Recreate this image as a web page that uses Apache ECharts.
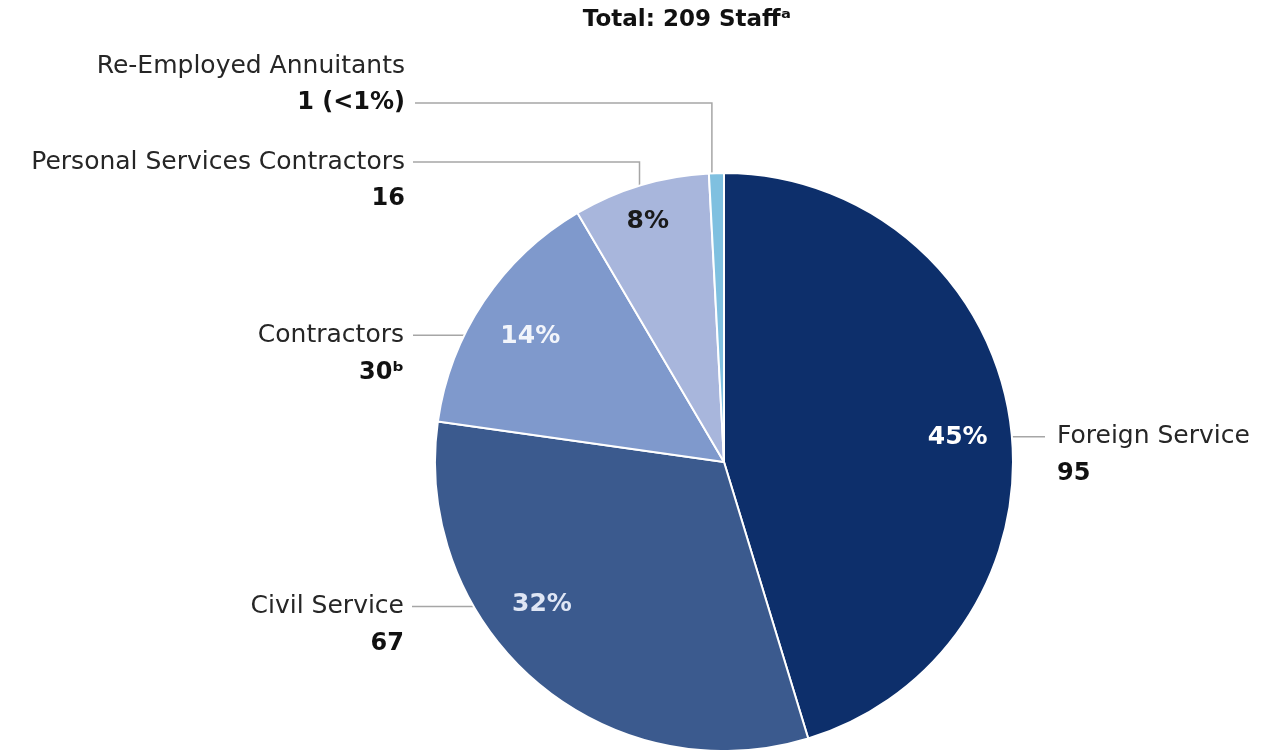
<!DOCTYPE html>
<html><head><meta charset="utf-8">
<script src="https://cdn.jsdelivr.net/npm/echarts@6/dist/echarts.min.js"></script>
<style>html,body{margin:0;padding:0;background:#fff}#c{width:1272px;height:750px}</style>
</head><body><div id="c"></div>
<script>
const categories = ['Foreign Service', 'Civil Service', 'Contractors', 'Personal Services Contractors', 'Re-Employed Annuitants'];
const values = [95, 67, 30, 16, 1];
const valueSuffix = ['', '', 'ᵇ', '', ''];
const colors = ['#0d2f6b', '#3b5a8e', '#7f99cc', '#a8b6dc', '#7fc0e0'];
const pctColors = ['#ffffff', '#dfe6f5', '#f2f5fb', '#1a1a1a', '#1a1a1a'];

const total = values.reduce((a, b) => a + b, 0);
const CX = 724, CY = 462, R = 289;
const FONT = '"DejaVu Sans", sans-serif';
const LH = 37;
// label layout config (angles in degrees, screen positions of text blocks)
const outLayout = [
  {angle: 5, lineEnd: 1045, textX: 1057, align: 'left', row: 0},
  {angle: 210, lineEnd: 412, textX: 404, align: 'right', row: 0},
  {angle: 154, lineEnd: 413, textX: 404, align: 'right', row: 0},
  {angle: 107, elbowY: 162, lineEnd: 413, textX: 405, align: 'right', row: 0},
  {angle: 92.4, elbowY: 103, lineEnd: 415, textX: 405, align: 'right', row: 1}
];
const inLayout = [
  {angle: 6, r: 235}, {angle: 218, r: 231}, {angle: 147, r: 231}, {angle: 107.6, r: 252}, null
];
function pt(angle, r) {
  const a = angle * Math.PI / 180;
  return [CX + r * Math.cos(a), CY - r * Math.sin(a)];
}

const chart = echarts.init(document.getElementById('c'), null, {renderer: 'canvas'});
chart.setOption({
  animation: false,
  title: {
    text: 'Total: ' + total + ' Staffᵃ',
    left: 682, top: 4, textAlign: 'center',
    textStyle: {fontFamily: FONT, fontSize: 23, fontWeight: 'bold', color: '#111'}
  },
  series: [
    {
      type: 'pie', center: [CX, CY], radius: R, startAngle: 90, clockwise: true,
      minAngle: 3,
      silent: true,
      itemStyle: {borderColor: '#ffffff', borderWidth: 2},
      data: categories.map((n, i) => ({name: n, value: values[i], itemStyle: {color: colors[i]}})),
      label: {
        show: true, position: 'outside',
        formatter: p => {
          const i = p.dataIndex;
          let v = String(values[i]) + valueSuffix[i];
          if (i === 4) v += ' (<1%)';
          return '{n|' + p.name + '}\n{v|' + v + '}';
        },
        rich: {
          n: {fontFamily: FONT, fontSize: 25, color: '#262626', lineHeight: LH},
          v: {fontFamily: FONT, fontSize: 24, fontWeight: 'bold', color: '#111', lineHeight: LH}
        }
      },
      labelLine: {show: true, lineStyle: {color: '#a6a6a6', width: 1.5}},
      labelLayout: params => {
        const c = outLayout[params.dataIndex];
        const a = pt(c.angle, R);
        let pts, ly;
        if (c.elbowY !== undefined) {
          ly = c.elbowY;
          pts = [[a[0], a[1]], [a[0], ly], [c.lineEnd, ly]];
        } else {
          ly = a[1];
          pts = [[a[0], ly], [(a[0] + c.lineEnd) / 2, ly], [c.lineEnd, ly]];
        }
        return {
          x: c.textX, y: ly - LH / 2 - c.row * LH,
          align: c.align, verticalAlign: 'top',
          labelLinePoints: pts
        };
      }
    },
    {
      type: 'pie', center: [CX, CY], radius: R, startAngle: 90, clockwise: true,
      minAngle: 3,
      silent: true,
      itemStyle: {color: 'rgba(0,0,0,0)'},
      data: categories.map((n, i) => ({name: n, value: values[i], label: {color: pctColors[i]}})),
      label: {
        show: true, position: 'inside',
        formatter: p => p.dataIndex === 4 ? '' : Math.round(p.value / total * 100) + '%',
        fontFamily: FONT, fontSize: 25, fontWeight: 'bold'
      },
      labelLine: {show: false},
      labelLayout: params => {
        const c = inLayout[params.dataIndex];
        if (!c) return {};
        const p = pt(c.angle, c.r);
        return {x: p[0], y: p[1], align: 'center', verticalAlign: 'middle'};
      }
    }
  ]
});
</script>
</body></html>
